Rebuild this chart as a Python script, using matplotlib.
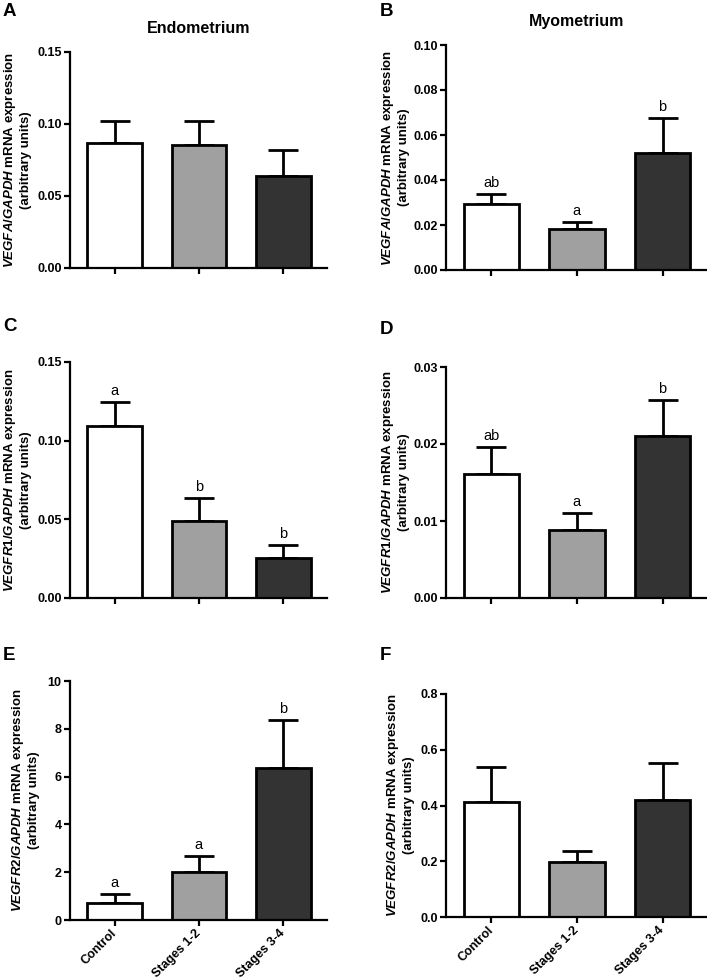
import numpy as np
import matplotlib
matplotlib.use('Agg')
import matplotlib.pyplot as plt
from matplotlib.ticker import FormatStrFormatter, MultipleLocator

plt.rcParams['font.family'] = ['Liberation Sans', 'DejaVu Sans']
plt.rcParams['mathtext.fontset'] = 'custom'
plt.rcParams['mathtext.it'] = 'Liberation Sans:italic:bold'
plt.rcParams['mathtext.rm'] = 'Liberation Sans:bold'

groups = ['Control', 'Stages 1-2', 'Stages 3-4']
bar_colors = ['#ffffff', '#a0a0a0', '#333333']

# mean and SEM
vegfa_endo = [0.0868, 0.0856, 0.0641]
vegfa_endo_sem = [0.0155, 0.0167, 0.0176]
vegfa_myo = [0.0292, 0.0182, 0.0521]
vegfa_myo_sem = [0.0044, 0.0033, 0.0156]
vegfr1_endo = [0.1096, 0.0492, 0.0254]
vegfr1_endo_sem = [0.0148, 0.0146, 0.0084]
vegfr1_myo = [0.0161, 0.00885, 0.0210]
vegfr1_myo_sem = [0.0035, 0.00215, 0.0047]
vegfr2_endo = [0.70, 2.02, 6.36]
vegfr2_endo_sem = [0.39, 0.67, 2.00]
vegfr2_myo = [0.414, 0.196, 0.420]
vegfr2_myo_sem = [0.1245, 0.0416, 0.1316]

letters_b = ['ab', 'a', 'b']
letters_c = ['a', 'b', 'b']
letters_d = ['ab', 'a', 'b']
letters_e = ['a', 'a', 'b']

W, H = 707, 980
fig = plt.figure(figsize=(W / 100, H / 100), dpi=100)


def px_axes(left, right, top, bottom):
    return fig.add_axes([left / W, 1 - bottom / H, (right - left) / W, (bottom - top) / H])


def panel(box, mean, sem, gene, ymax, step, fmt, letters=None, xlabels=False,
          title=None, lab_off=50):
    ax = px_axes(*box)
    x = np.arange(len(mean))
    ax.bar(x, mean, width=0.65, color=bar_colors, edgecolor='black', linewidth=2, zorder=2)
    ax.errorbar(x, mean, yerr=[np.zeros(len(sem)), sem], fmt='none', ecolor='black',
                elinewidth=2, capsize=11, capthick=2, zorder=1)
    ax.set_xlim(-0.53, 2.52)
    ax.set_ylim(0, ymax)
    ax.yaxis.set_major_locator(MultipleLocator(step))
    ax.yaxis.set_major_formatter(FormatStrFormatter(fmt))
    for s in ['top', 'right']:
        ax.spines[s].set_visible(False)
    for s in ['left', 'bottom']:
        ax.spines[s].set_linewidth(1.6)
    ax.tick_params(width=1.6, length=4, labelsize=9, pad=2)
    for t in ax.get_yticklabels():
        t.set_fontweight('bold')
    ax.set_xticks(x)
    if xlabels:
        ax.set_xticklabels(groups, rotation=45, ha='right', va='center',
                           rotation_mode='anchor', fontweight='bold', fontsize=9)
        ax.tick_params(axis='x', pad=4)
    else:
        ax.set_xticklabels([])
    ax.set_ylabel('$\\mathit{' + gene + '/GAPDH}$ mRNA expression\n(arbitrary units)',
                  fontweight='bold', fontsize=9.5, va='center', linespacing=1.25)
    ax.yaxis.set_label_coords(-lab_off / (box[1] - box[0]), 0.5)
    if letters:
        for xi, m, e, l in zip(x, mean, sem, letters):
            ax.annotate(l, (xi, m + e), xytext=(0, 5), textcoords='offset points',
                        ha='center', va='baseline', fontsize=10.5)
    if title:
        ax.set_title(title, fontweight='bold', fontsize=11.5, pad=14)
    return ax


panel((70, 327, 52, 268), vegfa_endo, vegfa_endo_sem, 'VEGFA', 0.15, 0.05, '%.2f',
      title='Endometrium', lab_off=53)
panel((446, 707, 45, 270), vegfa_myo, vegfa_myo_sem, 'VEGFA', 0.10, 0.02, '%.2f',
      letters=letters_b, title='Myometrium', lab_off=51)
panel((70, 327, 362, 598), vegfr1_endo, vegfr1_endo_sem, 'VEGFR1', 0.15, 0.05, '%.2f',
      letters=letters_c, lab_off=53)
panel((446, 707, 367, 598), vegfr1_myo, vegfr1_myo_sem, 'VEGFR1', 0.03, 0.01, '%.2f',
      letters=letters_d, lab_off=51)
panel((70, 327, 681, 920), vegfr2_endo, vegfr2_endo_sem, 'VEGFR2', 10, 2, '%d',
      letters=letters_e, xlabels=True, lab_off=45)
panel((446, 707, 694, 917), vegfr2_myo, vegfr2_myo_sem, 'VEGFR2', 0.8, 0.2, '%.1f',
      xlabels=True, lab_off=46)

for lab, px, py in [('A', 3, 3), ('B', 380, 3), ('C', 3, 318), ('D', 380, 321),
                    ('E', 3, 647), ('F', 380, 647)]:
    fig.text(px / W, 1 - py / H, lab, fontsize=13.5, fontweight='bold', ha='left', va='top')

fig.savefig('out.png', dpi=100)
